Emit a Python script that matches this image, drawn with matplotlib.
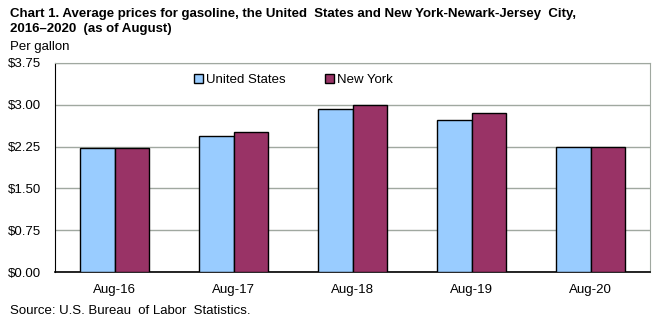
import numpy as np
import matplotlib.pyplot as plt

# data
categories = ['Aug-16', 'Aug-17', 'Aug-18', 'Aug-19', 'Aug-20']
us_prices = [2.23, 2.44, 2.93, 2.73, 2.25]
ny_prices = [2.23, 2.52, 3.00, 2.86, 2.25]
y_ticks = [0.0, 0.75, 1.5, 2.25, 3.0, 3.75]

plt.rcParams['font.family'] = ['Liberation Sans', 'DejaVu Sans']

fig = plt.figure(figsize=(6.63, 3.23), dpi=100)
ax = fig.add_axes([55 / 663, 1 - 272 / 323, 595 / 663, 209 / 323])

x = np.arange(len(categories))
w = 0.286
ax.bar(x - w / 2, us_prices, w, color='#99CCFF', edgecolor='black', linewidth=1, label='United States', zorder=3)
ax.bar(x + w / 2, ny_prices, w, color='#993366', edgecolor='black', linewidth=1, label='New York', zorder=3)

ax.set_xlim(-0.5, len(categories) - 0.5)
ax.set_ylim(0, 3.75)
ax.set_yticks(y_ticks)
ax.set_yticklabels(['${:.2f}'.format(v) for v in y_ticks], fontsize=9.5)
ax.set_xticks(x)
ax.set_xticklabels(categories, fontsize=9.5)
ax.tick_params(axis='both', length=0)
ax.tick_params(axis='x', pad=9)
ax.tick_params(axis='y', pad=10)
ax.yaxis.grid(True, color='#A0A8A0', linewidth=1, zorder=0)

for s in ['top', 'right']:
    ax.spines[s].set_color('#A0A8A0')
ax.spines['bottom'].set_color('black')
ax.spines['left'].set_color('black')
ax.spines['bottom'].set_linewidth(1.2)

ax.legend(loc='upper center', bbox_to_anchor=(0.40, 1.0), ncol=2, frameon=False,
          fontsize=9.5, handlelength=0.7, handleheight=0.7, handletextpad=0.2,
          columnspacing=3.0, borderaxespad=0.4)

fig.text(10 / 663, 1 - 14 / 323, 'Chart 1. Average prices for gasoline, the United  States and New York-Newark-Jersey  City,',
         fontsize=9.5, fontweight='bold', va='center', ha='left')
fig.text(10 / 663, 1 - 29 / 323, '2016\u20132020  (as of August)',
         fontsize=9.5, fontweight='bold', va='center', ha='left')
fig.text(10 / 663, 1 - 47 / 323, 'Per gallon', fontsize=9.5, va='center', ha='left')
fig.text(10 / 663, 1 - 311 / 323, 'Source: U.S. Bureau  of Labor  Statistics.', fontsize=9.5, va='center', ha='left')

fig.savefig('out.png', dpi=100)
